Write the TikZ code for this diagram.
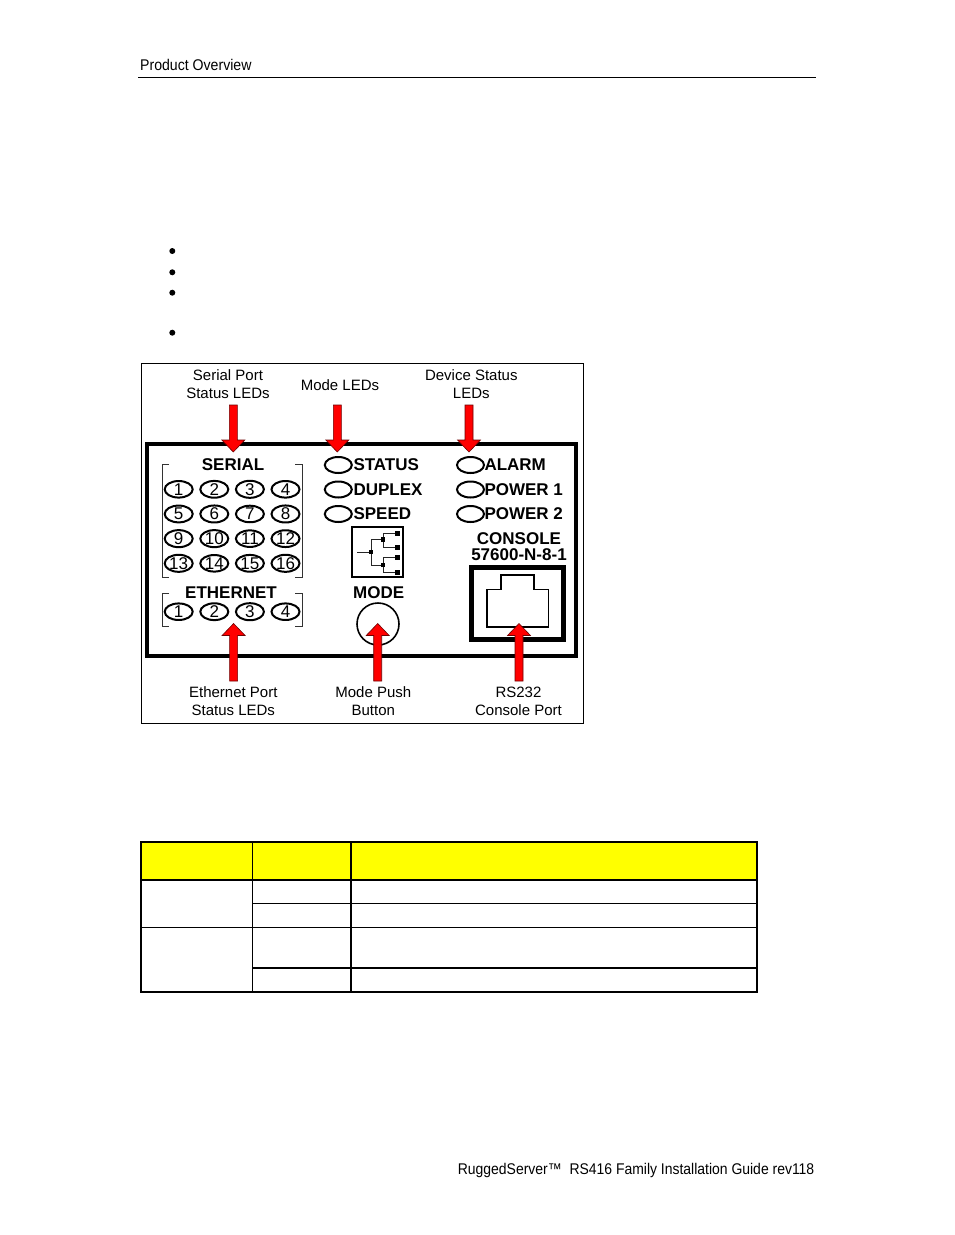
\documentclass[tikz,border=0pt]{standalone}
\usepackage{fontspec}
\usepackage{graphicx}
\setmainfont{Liberation Sans}
\usetikzlibrary{calc,shapes.geometric}
\definecolor{arrowred}{RGB}{255,0,0}
\definecolor{arrowedge}{RGB}{110,0,0}
\definecolor{headyellow}{RGB}{255,255,0}
\newcommand\PanelArrow[3]{%
  \draw[redarrow] ($(#1)+(-4,0)$) -- ($(#2)+(-4,#3*12)$) -- ($(#2)+(-11.5,#3*12)$) -- (#2)
    -- ($(#2)+(11.5,#3*12)$) -- ($(#2)+(4,#3*12)$) -- ($(#1)+(4,0)$) -- cycle;}
\begin{document}
\begin{tikzpicture}[x=1pt,y=-1pt,
  led/.style={ellipse, draw, line width=2pt, minimum width=28pt, minimum height=16.5pt,
    inner sep=0pt, font=\fontsize{17}{17}\selectfont},
  ptext/.style={font=\fontsize{17}{17}\selectfont\bfseries, inner sep=0pt},
  lbl/.style={font=\fontsize{15}{18}\selectfont, align=center, inner sep=0pt},
  pagetext/.style={font=\fontsize{15.5}{17}\selectfont, inner sep=0pt},
  redarrow/.style={fill=arrowred, draw=arrowedge, line width=0.6pt, line join=miter},
  bracketline/.style={line width=1pt, draw=black!80},
  iconline/.style={line width=0.6pt, draw=black!85},
  tableline/.style={line width=1.6pt}]
\useasboundingbox (0,0) rectangle (954,1235);
\fill[white] (0,0) rectangle (954,1235);

% header and footer
\node[pagetext, anchor=base west] (hdr) at (140,70.7) {\scalebox{0.91}[1]{Product Overview}};
\draw[line width=1pt] (138,77) -- (816,77);
\node[pagetext, anchor=base east] (ftr) at (814.5,1174) {\scalebox{0.9}[1]{RuggedServer™\ \ RS416 Family Installation Guide rev118}};

% bullets
\foreach \yy in {251,272.3,292.7,332.7} \fill (172.3,\yy) circle (3);

% figure frame and panel
\draw[line width=1pt] (141,363.5) rectangle (583,723.5);
\draw[line width=4pt] (146.7,444) rectangle (575.5,655.5);

% top labels
\node[lbl] (lserial) at (228,384) {Serial Port\\Status LEDs};
\node[lbl] (lmode) at (340,385) {Mode LEDs};
\node[lbl] (ldev) at (471.3,384) {Device Status\\LEDs};
% bottom labels
\node[lbl] (leth) at (233.3,701) {Ethernet Port\\Status LEDs};
\node[lbl] (lpush) at (373.3,701) {Mode Push\\Button};
\node[lbl] (lrs) at (518.5,701) {RS232\\Console Port};

% serial section
\node[ptext] (serial) at (233,465) {SERIAL};
\draw[bracketline] (169,464) -- (162,464) -- (162,577) -- (169,577);
\draw[bracketline] (295,464) -- (302,464) -- (302,577) -- (295,577);
\foreach \n [count=\i from 0] in {1,...,16} {
  \pgfmathtruncatemacro\cc{mod(\i,4)}
  \pgfmathtruncatemacro\rr{int(\i/4)}
  \node[led] (s\n) at ({178.7+35.6*\cc},{489.3+24.67*\rr}) {\makebox[0pt]{\n}};
}
% ethernet section
\node[ptext] (ethernet) at (231,592.7) {ETHERNET};
\draw[bracketline] (169,593.5) -- (162,593.5) -- (162,626) -- (169,626);
\draw[bracketline] (295,593.5) -- (302,593.5) -- (302,626) -- (295,626);
\foreach \n in {1,...,4}
  \node[led] (e\n) at ({178.7+35.6*(\n-1)},611.7) {\makebox[0pt]{\n}};

% mode LEDs
\node[led, minimum width=27pt, minimum height=16pt] (mstatus) at (338.3,465) {};
\node[led, minimum width=27pt, minimum height=16pt] (mduplex) at (338.3,489.5) {};
\node[led, minimum width=27pt, minimum height=16pt] (mspeed) at (338.3,514) {};
\node[ptext, anchor=west] (tstatus) at (353.3,465) {STATUS};
\node[ptext, anchor=west] (tduplex) at (353.3,489.5) {DUPLEX};
\node[ptext, anchor=west] (tspeed) at (353.3,514) {SPEED};

% device LEDs
\node[led, minimum width=27pt, minimum height=16pt] (dalarm) at (470.5,465) {};
\node[led, minimum width=27pt, minimum height=16pt] (dpow1) at (470.5,489.5) {};
\node[led, minimum width=27pt, minimum height=16pt] (dpow2) at (470.5,514) {};
\node[ptext, anchor=west] (talarm) at (484.3,465) {ALARM};
\node[ptext, anchor=west] (tpow1) at (484.3,489.5) {POWER 1};
\node[ptext, anchor=west] (tpow2) at (484.3,514) {POWER 2};

% mode switch icon
\draw[line width=1.3pt] (352,527) rectangle (403,577);
\draw[iconline] (357,552) -- (371,552);
\draw[iconline] (383,539.5) -- (371,539.5) -- (371,565) -- (383,565);
\draw[iconline] (397,533) -- (383,533) -- (383,547) -- (397,547);
\draw[iconline] (397,557) -- (383,557) -- (383,572) -- (397,572);
\fill (371,552) ++(-2.3,-2.3) rectangle ++(4.6,4.6);
\fill (383,539.5) ++(-2.2,-2.2) rectangle ++(4.4,4.4);
\fill (383,565) ++(-2.2,-2.2) rectangle ++(4.4,4.4);
\foreach \yy in {533,547,557,572} \fill (397,\yy) ++(-2.5,-2.5) rectangle ++(5,5);
\node[ptext] (mode) at (378.7,592.7) {MODE};
\node[circle, draw, line width=1.6pt, minimum size=42pt, inner sep=0pt] (button) at (378,624) {};

% console
\node[ptext, align=center, font=\fontsize{17}{16}\selectfont\bfseries] (console) at (519,547) {CONSOLE\\57600-N-8-1};
\draw[line width=5pt] (471,567.5) rectangle (563,639);
\draw[line width=1.6pt] (486.7,589.3) -- (500.7,589.3) -- (500.7,575) -- (534,575) -- (534,589.3)
  -- (548.3,589.3) -- (548.3,626.7) -- (486.7,626.7) -- cycle;

% arrows
\coordinate (ta1) at (233.3,405); \coordinate (tt1) at (233.3,452);
\coordinate (ta2) at (337.3,405); \coordinate (tt2) at (337.3,452);
\coordinate (ta3) at (469,405);   \coordinate (tt3) at (469,452);
\coordinate (ba1) at (233.6,681); \coordinate (bt1) at (233.6,623.5);
\coordinate (ba2) at (377.7,681); \coordinate (bt2) at (377.7,623.5);
\coordinate (ba3) at (519,681);   \coordinate (bt3) at (519,623.5);
\PanelArrow{ta1}{tt1}{-1}
\PanelArrow{ta2}{tt2}{-1}
\PanelArrow{ta3}{tt3}{-1}
\PanelArrow{ba1}{bt1}{1}
\PanelArrow{ba2}{bt2}{1}
\PanelArrow{ba3}{bt3}{1}

% table
\fill[headyellow] (141,842) rectangle (757,880);
\draw[tableline] (141,842) rectangle (757,992);
\draw[tableline] (252.5,842) -- (252.5,992);
\draw[tableline] (351,842) -- (351,992);
\draw[tableline] (141,880) -- (757,880);
\draw[tableline] (252.5,903.5) -- (757,903.5);
\draw[tableline] (141,927.5) -- (757,927.5);
\draw[tableline] (252.5,968) -- (757,968);
\end{tikzpicture}
\end{document}
